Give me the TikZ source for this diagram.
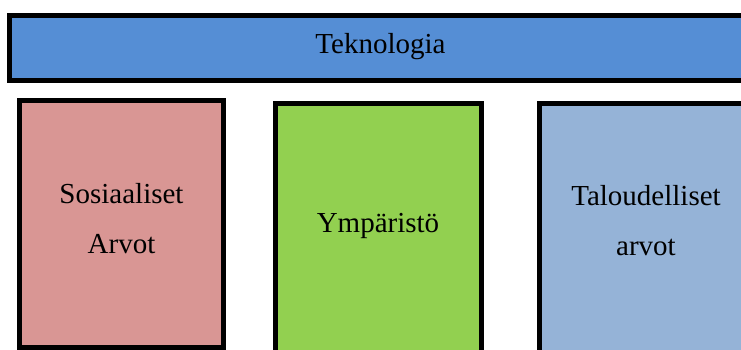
\documentclass[tikz,border=0pt]{standalone}
\usepackage{fontspec}
\setmainfont{Liberation Serif}
\definecolor{barblue}{HTML}{558ED5}
\definecolor{socialpink}{HTML}{D99694}
\definecolor{envgreen}{HTML}{92D050}
\definecolor{econblue}{HTML}{95B3D7}
\tikzset{
  panel/.style={draw=black, line width=5pt, rectangle, inner sep=0pt, outer sep=0pt},
  label/.style={inner sep=0pt, anchor=base, font=\fontsize{29}{35}\selectfont}
}
\begin{document}
\begin{tikzpicture}[x=1pt, y=-1pt]
  \useasboundingbox (0,0) rectangle (741,350);
  \clip (0,0) rectangle (741,350);
  % top bar
  \node[panel, fill=barblue, minimum width=750.5pt, minimum height=65pt] (tek) at (384.75,48) {};
  % three pillars
  \node[panel, fill=socialpink, minimum width=204pt, minimum height=247pt] (sos) at (121.5,224) {};
  \node[panel, fill=envgreen, minimum width=206pt, minimum height=266.5pt] (ymp) at (378.5,236.75) {};
  \node[panel, fill=econblue, minimum width=215.5pt, minimum height=266.5pt] (tal) at (647.25,236.75) {};
  % texts
  \node[label] (tekA) at (380.5,54) {Teknologia};
  \node[label] (sosA) at (121.5,203) {Sosiaaliset};
  \node[label] (sosB) at (121.5,253) {Arvot};
  \node[label] (ympA) at (378,232) {Ympäristö};
  \node[label] (talA) at (646,205) {Taloudelliset};
  \node[label] (talB) at (646,255) {arvot};
\end{tikzpicture}
\end{document}
